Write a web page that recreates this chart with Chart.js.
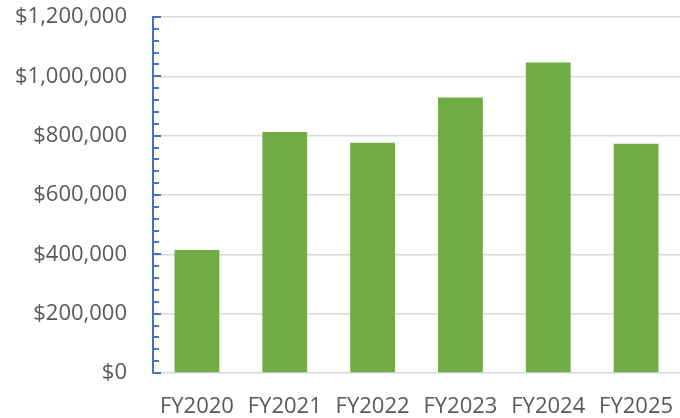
<!DOCTYPE html>
<html>
<head>
<meta charset="utf-8">
<script src="https://cdn.jsdelivr.net/npm/chart.js@4.4.1/dist/chart.umd.min.js"></script>
<style>
  html, body { margin: 0; padding: 0; background: #fff; }
  #wrap { width: 680px; height: 418px; }
</style>
</head>
<body>
<div id="wrap"><canvas id="budget-chart" width="680" height="418"></canvas></div>
<script>
// values
const fiscalYears = ['FY2020', 'FY2021', 'FY2022', 'FY2023', 'FY2024', 'FY2025'];
const amounts = [415000, 812000, 776000, 929000, 1047000, 773000];
const yMax = 1200000;
const majorStep = 200000;
const minorStep = 40000;

// blue tick marks that sit inside the plot, like the office chart
const insideTicks = {
  id: 'insideTicks',
  afterDatasetsDraw(chart) {
    const y = chart.scales.y;
    const ctx = chart.ctx;
    const x0 = y.right;
    ctx.save();
    ctx.strokeStyle = '#4472C4';
    ctx.lineWidth = 2;
    for (let v = 0; v <= yMax; v += minorStep) {
      const py = Math.round(y.getPixelForValue(v));
      const len = (v % majorStep === 0) ? 8 : 6;
      ctx.beginPath();
      ctx.moveTo(x0, py);
      ctx.lineTo(x0 + len, py);
      ctx.stroke();
    }
    ctx.restore();
  }
};

function noPad(scale) {
  scale.paddingTop = 0;
  scale.paddingBottom = 0;
  scale.paddingLeft = 0;
  scale.paddingRight = 0;
}

function createChart() {
  const chartCanvas = document.getElementById('budget-chart');
  const chart = new Chart(chartCanvas, {
    type: 'bar',
    data: {
      labels: fiscalYears,
      datasets: [{
        label: 'Amount',
        data: amounts,
        backgroundColor: '#70AD47',
        barPercentage: 0.51,
        categoryPercentage: 1
      }]
    },
    options: {
      responsive: false,
      animation: false,
      layout: { padding: { top: 17, right: 0, bottom: 0, left: 0 } },
      scales: {
        x: {
          grid: { display: false, drawTicks: false },
          border: { display: false },
          ticks: {
            color: '#595959',
            padding: 21,
            maxRotation: 0,
            autoSkip: false,
            font: { family: '"Open Sans"', size: 22 }
          },
          afterFit(scale) { scale.height = 45; noPad(scale); }
        },
        y: {
          min: 0,
          max: yMax,
          grid: { color: '#D9D9D9', lineWidth: 1.5, drawTicks: false },
          border: { color: '#4472C4', width: 2 },
          ticks: {
            stepSize: majorStep,
            color: '#595959',
            padding: 26,
            font: { family: '"Open Sans"', size: 22 },
            callback: v => '$' + v.toLocaleString('en-US')
          },
          afterFit(scale) { scale.width = 153; noPad(scale); }
        }
      },
      plugins: {
        legend: { display: false },
        tooltip: { enabled: false }
      }
    },
    plugins: [insideTicks]
  });
}

document.addEventListener('DOMContentLoaded', () => createChart());
</script>
</body>
</html>
